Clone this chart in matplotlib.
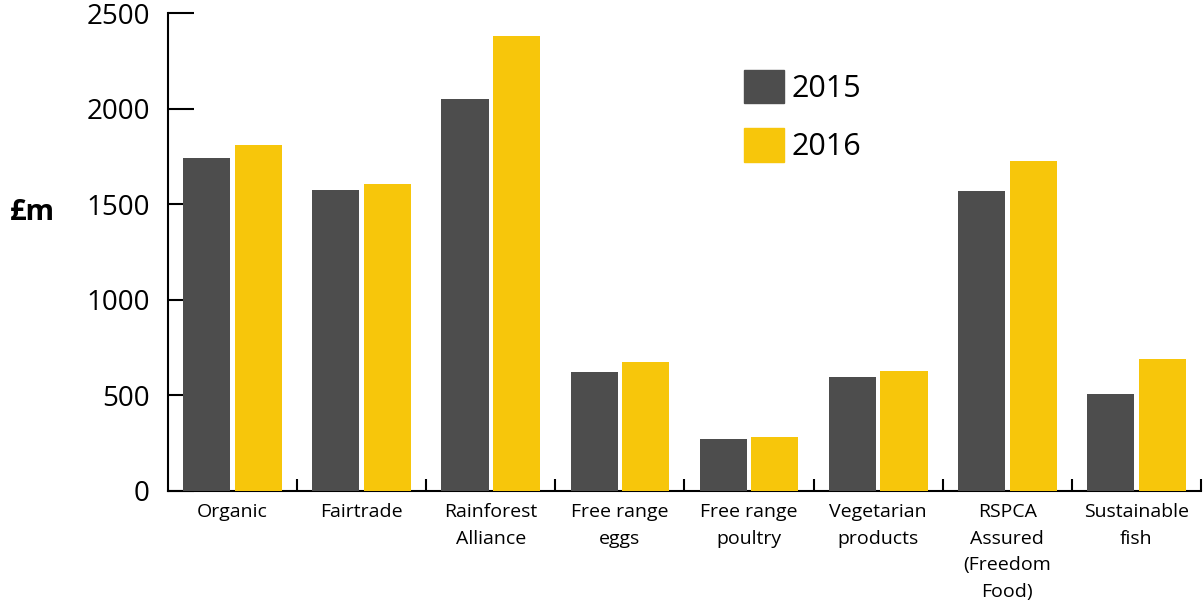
import matplotlib.pyplot as plt
import numpy as np
from matplotlib.patches import Patch

categories = ['Organic', 'Fairtrade', 'Rainforest\nAlliance', 'Free range\neggs',
              'Free range\npoultry', 'Vegetarian\nproducts',
              'RSPCA\nAssured\n(Freedom\nFood)', 'Sustainable\nfish']
sales_2015 = [1742, 1574, 2050, 622, 272, 596, 1569, 507]
sales_2016 = [1810, 1606, 2380, 675, 282, 628, 1726, 690]
years = ['2015', '2016']

plt.rcParams['font.family'] = ['Open Sans', 'DejaVu Sans']
dark = '#4d4d4d'
yellow = '#f7c60b'

fig = plt.figure(figsize=(12.04, 6.06), dpi=100)
ax = fig.add_axes([0.1395, 0.1898, 0.858, 0.7887])

x = np.arange(len(categories))
w = 0.365
ax.bar(x - 0.2, sales_2015, w, color=dark, zorder=3)
ax.bar(x + 0.2, sales_2016, w, color=yellow, zorder=3)

ax.set_xlim(-0.5, len(categories) - 0.5)
ax.set_ylim(0, 2500)

for s in ['top', 'right']:
    ax.spines[s].set_visible(False)
for s in ['left', 'bottom']:
    ax.spines[s].set_linewidth(1.5)

ax.set_yticks([0, 500, 1000, 1500, 2000, 2500])
ax.tick_params(axis='y', direction='in', length=19, width=1.5, pad=13, labelsize=20)

ax.set_xticks(x)
ax.set_xticklabels(categories, fontsize=14, linespacing=1.6)
ax.tick_params(axis='x', which='major', length=0, pad=9)
ax.set_xticks(np.arange(0.5, len(categories)), minor=True)
ax.tick_params(axis='x', which='minor', direction='in', length=9, width=1.5)

fig.text(0.008, 0.65, '£m', fontsize=21, fontweight='bold', va='center')

handles = [Patch(color=dark), Patch(color=yellow)]
ax.legend(handles, years, loc='upper left', bbox_to_anchor=(744 / 1204, 1 - 70 / 606),
          bbox_transform=fig.transFigure, frameon=False, fontsize=22,
          handlelength=1.3, handleheight=1.3, handletextpad=0.25, labelspacing=0.8,
          borderaxespad=0, borderpad=0)

fig.savefig('out.png', dpi=100)
